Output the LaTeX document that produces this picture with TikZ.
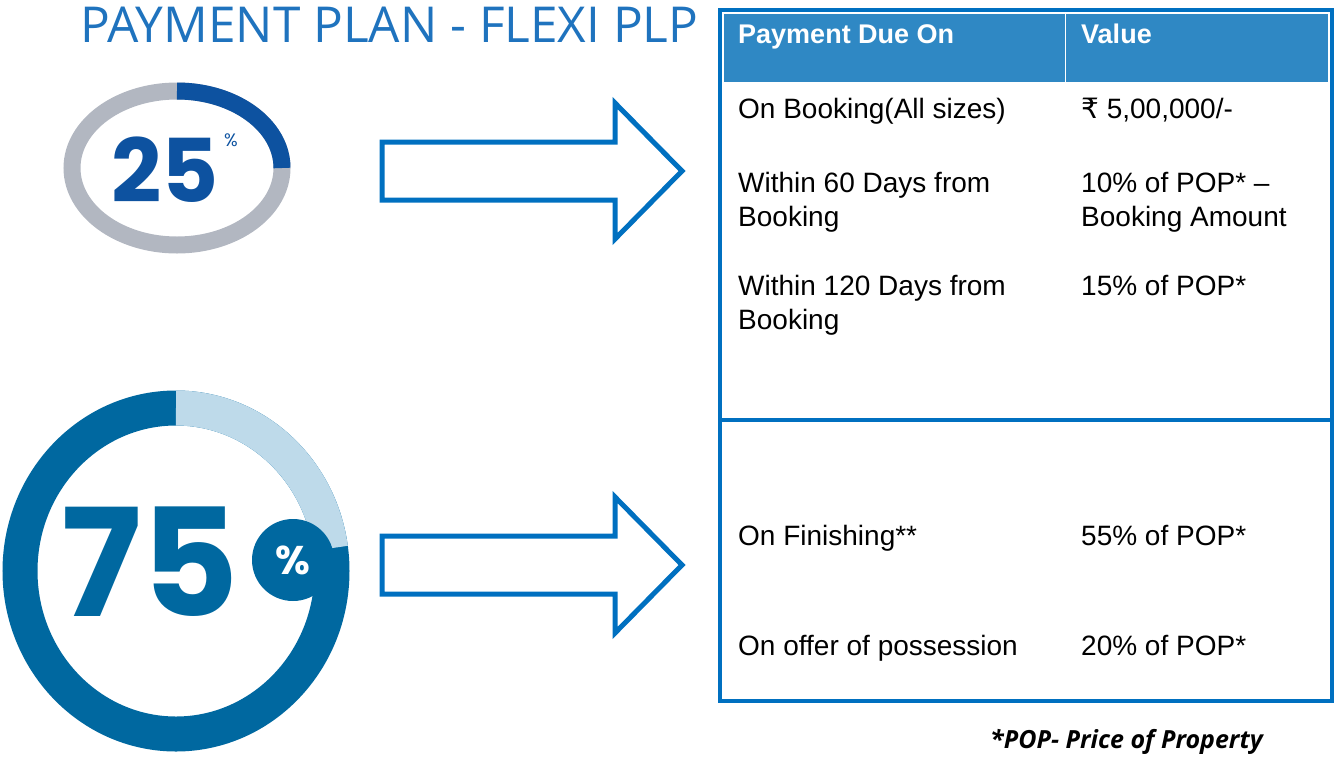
\documentclass[tikz,border=0pt]{standalone}
\usepackage{fontspec}
\setmainfont{Liberation Sans}
\newfontfamily\titlefont{Open Sans}
\newfontfamily\numfont{Poppins}
\newfontfamily\dvs{DejaVu Sans}
\definecolor{bord}{RGB}{0,112,192}
\definecolor{head}{RGB}{47,136,196}
\definecolor{ttl}{RGB}{31,115,190}
\definecolor{ringgrey}{RGB}{178,183,193}
\definecolor{dk25}{RGB}{13,82,160}
\definecolor{dk75}{RGB}{0,104,160}
\definecolor{lt75}{RGB}{190,218,234}
\tikzset{cell/.style={anchor=north west,align=left,inner sep=0pt,font=\fontsize{28}{34}\selectfont},
 arr/.style={draw=bord,line width=5pt,line join=miter}}
\begin{document}
\begin{tikzpicture}[x=1pt,y=-1pt]
\useasboundingbox (0,0) rectangle (1336,756);
\node[anchor=base west,inner sep=0pt,text=ttl,font=\titlefont\fontsize{49.5}{52}\selectfont] (title) at (80,42) {PAYMENT PLAN - FLEXI PLP};
% 25 ring
\draw[ringgrey,line width=17pt] (177,168) ellipse [x radius=105, y radius=77];
\draw[dk25,line width=17pt] (177,91) arc[start angle=90,end angle=0,x radius=105,y radius=-77];
\node[text=dk25,font=\numfont\bfseries\fontsize{88}{88}\selectfont,inner sep=0pt] (n25) at (165,170) {25};
\node[text=dk25,font=\numfont\fontsize{18}{18}\selectfont,inner sep=0pt] (p25) at (231,140) {\%};
% 75 ring
\draw[dk75,line width=35pt] (176,571) ellipse [x radius=156, y radius=163];
\draw[lt75,line width=35pt] (176,408) arc[start angle=90,end angle=8,x radius=156,y radius=-163];
\node[text=dk75,font=\numfont\bfseries\fontsize{150}{150}\selectfont,inner sep=0pt] (n75) at (150,562) {75};
\node[circle,fill=dk75,minimum size=82pt,inner sep=0pt,text=white,font=\numfont\bfseries\fontsize{40}{40}\selectfont] (p75) at (293,560) {\%};
% arrows
\draw[arr] (382,142) -- (615,142) -- (615,103) -- (682,171) -- (615,239) -- (615,200) -- (382,200) -- cycle;
\draw[arr] (382,536) -- (615,536) -- (615,497) -- (682,565) -- (615,633) -- (615,594) -- (382,594) -- cycle;
% table
\fill[head] (724,14) rectangle (1328,82);
\draw[bord,line width=4pt] (720,10) rectangle (1332,701);
\draw[bord,line width=4pt] (720,420) -- (1332,420);
\draw[white,line width=1pt] (1065,14) -- (1065,82);
\node[cell,text=white,font=\bfseries\fontsize{27}{30}\selectfont] (h1) at (738,24) {Payment Due On};
\node[cell,text=white,font=\bfseries\fontsize{27}{30}\selectfont] (h2) at (1081,24) {Value};
\node[cell] (a1) at (738,98) {On Booking(All sizes)};
\node[cell] (b1) at (1081,98) {{\dvs ₹} 5,00,000/-};
\node[cell] (a2) at (738,172) {Within 60 Days from\\Booking};
\node[cell] (b2) at (1081,172) {10\% of POP* –\\Booking Amount};
\node[cell] (a3) at (738,275) {Within 120 Days from\\Booking};
\node[cell] (b3) at (1081,275) {15\% of POP*};
\node[cell] (a4) at (738,525) {On Finishing**};
\node[cell] (b4) at (1081,525) {55\% of POP*};
\node[cell] (a5) at (738,635) {On offer of possession};
\node[cell] (b5) at (1081,635) {20\% of POP*};
\node[anchor=base west,inner sep=0pt,font=\titlefont\bfseries\itshape\fontsize{25}{30}\selectfont] (foot) at (990,748) {*POP- Price of Property};
\end{tikzpicture}
\end{document}
